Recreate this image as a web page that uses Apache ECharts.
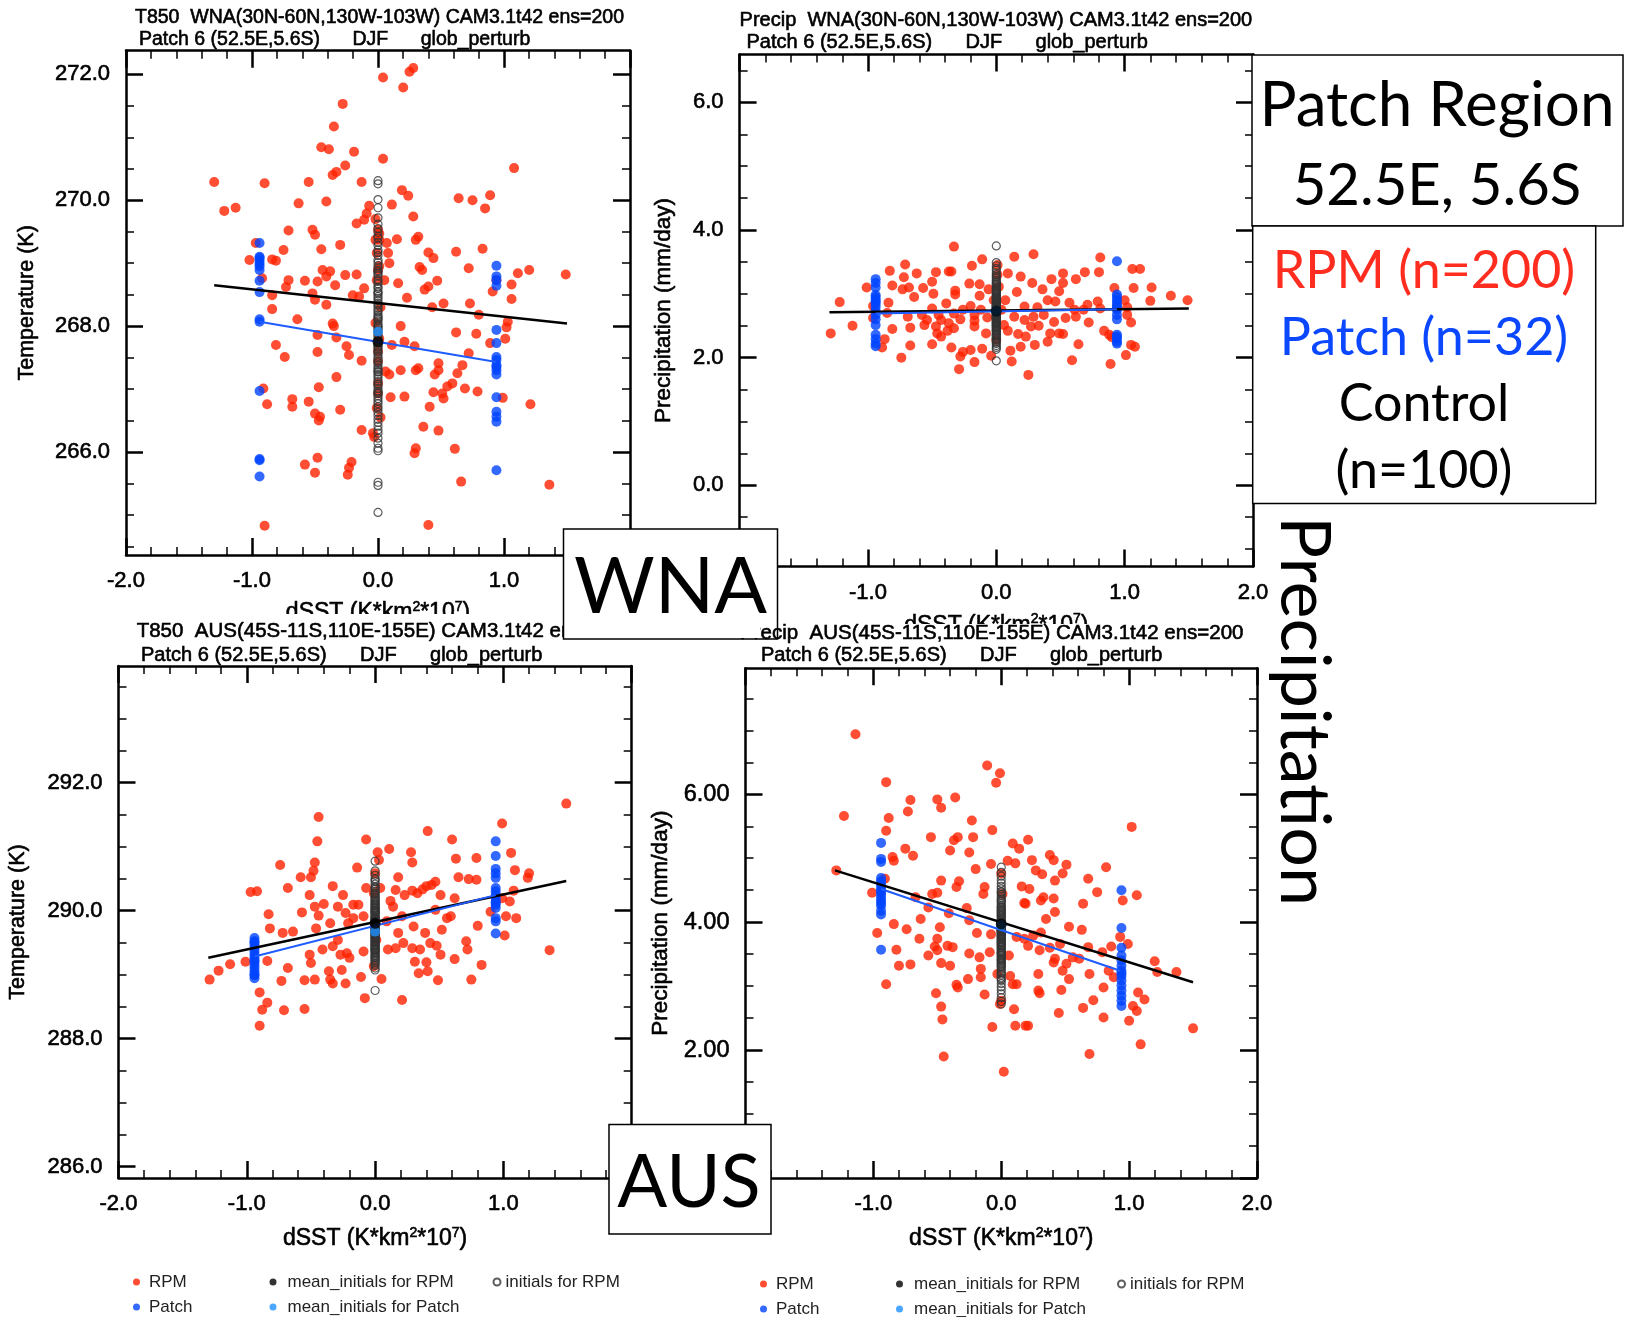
<!DOCTYPE html>
<html><head><meta charset="utf-8">
<script src="https://cdn.jsdelivr.net/npm/echarts@6.0.0/dist/echarts.min.js"></script>
<style>html,body{margin:0;padding:0;background:#fff}#c{width:1633px;height:1317px}</style>
</head><body><div id="c"></div>
<script>
// ---------------- DATA ----------------
const xTicks = [-2, -1, 0, 1, 2];
const xMinorTicks = [-1.8,-1.6,-1.4,-1.2,-0.8,-0.6,-0.4,-0.2,0.2,0.4,0.6,0.8,1.2,1.4,1.6,1.8];
const patchDsst = [-0.94, 0.94];

const tlYTicks = [266, 268, 270, 272];
const tlYMinor = [264.5,265,265.5,266.5,267,267.5,268.5,269,269.5,270.5,271,271.5];
const trYTicks = [0, 2, 4, 6];
const trYMinor = [-1,-0.5,0.5,1,1.5,2.5,3,3.5,4.5,5,5.5,6.5];
const blYTicks = [286, 288, 290, 292];
const blYMinor = [286.5,287,287.5,288.5,289,289.5,290.5,291,291.5,292.5,293,293.5];
const brYTicks = [0, 2, 4, 6];
const brYMinor = [0.5,1,1.5,2.5,3,3.5,4.5,5,5.5,6.5,7,7.5];

// T850 WNA
const tlRpm = [[0.04,271.95],[0.25,272.04],[0.28,272.10],[0.20,271.79],[-0.28,271.53],[-0.35,271.17],[-0.45,270.84],[-0.39,270.81],[-0.19,270.77],[0.04,270.66],[-0.26,270.55],[-0.33,270.45],[-0.36,270.40],[1.08,270.51],[-1.30,270.29],[-0.90,270.27],[-0.55,270.29],[-0.13,270.29],[0.19,270.16],[0.24,270.07],[0.64,270.03],[0.75,270.00],[0.89,270.08],[0.85,269.87],[-0.63,269.95],[-0.41,269.98],[0.11,269.93],[-1.22,269.83],[-1.13,269.88],[-0.07,269.91],[-0.09,269.79],[-0.11,269.69],[0.28,269.74],[-0.17,269.63],[-0.71,269.52],[-0.52,269.53],[-0.50,269.45],[0.32,269.42],[0.30,269.37],[0.15,269.38],[0.07,269.32],[-0.02,269.37],[-0.30,269.29],[-0.75,269.21],[-0.45,269.22],[0.62,269.18],[0.83,269.23],[0.40,269.17],[0.44,269.08],[-0.97,269.32],[-1.02,269.05],[-0.84,269.06],[-0.81,269.04],[0.08,269.16],[0.09,269.00],[0.33,268.94],[0.35,268.89],[0.72,268.92],[1.11,268.84],[1.20,268.89],[1.49,268.82],[-0.44,268.89],[-0.38,268.87],[-0.41,268.79],[-0.26,268.81],[-0.17,268.82],[-0.58,268.72],[-0.71,268.73],[-0.73,268.62],[-0.48,268.71],[-0.34,268.65],[-0.92,268.76],[0.16,268.68],[0.40,268.63],[0.37,268.58],[0.47,268.72],[-0.11,268.60],[-0.20,268.49],[-0.15,268.47],[0.05,268.73],[1.06,268.66],[0.94,268.73],[0.91,268.55],[-0.84,268.49],[-0.52,268.52],[-0.50,268.42],[-0.41,268.34],[0.23,268.45],[0.43,268.30],[0.52,268.36],[0.73,268.36],[1.06,268.43],[0.80,268.18],[-0.84,268.27],[-0.64,268.11],[-0.36,268.04],[-0.35,268.00],[0.18,268.00],[1.03,268.07],[1.02,267.98],[0.62,267.90],[0.78,267.88],[1.01,267.80],[-0.48,267.86],[-0.33,267.82],[-0.81,267.70],[-0.25,267.68],[-0.74,267.51],[-0.48,267.59],[-0.23,267.54],[-0.13,267.45],[0.21,267.75],[0.29,267.68],[0.11,267.70],[0.72,267.57],[0.67,267.38],[0.48,267.41],[0.48,267.30],[0.45,267.23],[0.30,267.30],[0.32,267.33],[0.18,267.30],[0.09,267.23],[0.06,267.28],[0.63,267.25],[-0.33,267.19],[-0.47,267.03],[0.59,267.09],[0.55,267.04],[0.51,266.93],[0.52,266.85],[0.44,266.95],[0.69,267.01],[0.79,266.96],[0.10,266.87],[0.21,266.88],[-0.68,266.84],[-0.68,266.72],[-0.88,266.76],[-0.55,266.80],[-0.30,266.67],[-0.50,266.61],[-0.46,266.56],[-0.47,266.50],[0.99,266.86],[1.21,266.76],[0.41,266.72],[0.36,266.40],[0.48,266.34],[-0.13,266.35],[-0.04,266.30],[-0.03,266.24],[0.30,266.06],[0.29,265.98],[0.61,266.05],[-0.48,265.91],[-0.58,265.80],[-0.50,265.67],[-0.21,265.84],[-0.23,265.75],[-0.24,265.64],[0.66,265.53],[1.36,265.48],[-0.90,264.83],[0.40,264.84],[0.00,269.53],[0.01,269.37],[0.00,268.89],[-0.01,268.73],[0.00,267.44],[0.00,266.93],[0.01,269.47],[-0.01,269.16],[0.00,267.09],[0.89,267.73],[-0.91,267.01],[0.02,268.30],[-0.02,268.05],[0.01,267.80],[0.00,267.60],[-0.01,266.70],[0.02,266.55],[0.01,268.95],[-0.02,269.70]];
const tlPatchNeg = [269.32,269.08,269.04,268.99,268.89,268.72,268.54,268.11,268.07,266.97,265.89,265.87,265.61,268.95,269.10];
const tlPatchPos = [268.96,268.79,268.73,268.64,267.94,267.73,267.51,267.46,267.38,267.30,267.23,266.87,266.64,266.56,266.48,265.71,267.35];
const tlControl = [270.31,270.26,270.01,269.88,269.72,269.62,269.55,269.49,269.43,269.40,269.33,269.28,269.21,269.17,269.12,269.05,269.01,268.96,268.92,268.88,268.83,268.80,268.74,268.71,268.67,268.62,268.60,268.55,268.51,268.47,268.44,268.40,268.36,268.33,268.29,268.25,268.22,268.18,268.15,268.11,268.08,268.04,268.01,267.97,267.94,267.91,267.87,267.84,267.80,267.77,267.73,267.70,267.66,267.63,267.59,267.56,267.52,267.49,267.45,267.42,267.38,267.34,267.31,267.27,267.23,267.20,267.16,267.12,267.08,267.05,267.01,266.97,266.93,266.89,266.85,266.81,266.77,266.72,266.68,266.63,266.58,266.52,266.47,266.41,266.35,266.30,266.22,266.14,266.06,266.02,265.52,265.47,265.04,268.53,268.13,267.68,267.28,266.95,268.86,267.99];
const tlFitRpm = [[-1.30,268.65],[1.50,268.04]];
const tlFitPatch = [[-0.94,268.07],[0.94,267.43]];

// Precip WNA
const trRpm = [[-0.33,3.74],[-0.11,3.54],[0.14,3.58],[0.29,3.62],[0.81,3.57],[1.06,3.39],[1.12,3.39],[-0.71,3.46],[-0.83,3.36],[-0.72,3.26],[-0.62,3.32],[-0.47,3.34],[-0.37,3.35],[-0.35,3.35],[-0.19,3.44],[0.09,3.32],[0.19,3.27],[0.28,3.17],[0.43,3.23],[0.52,3.32],[0.62,3.23],[0.69,3.34],[0.80,3.34],[-1.01,3.10],[-0.81,3.13],[-0.73,3.07],[-0.68,3.10],[-0.57,3.09],[-0.50,3.19],[-0.49,3.00],[-0.64,2.95],[-0.32,3.05],[-0.32,2.99],[-0.21,3.16],[-0.13,3.15],[-0.13,2.97],[-0.06,3.07],[0.16,3.03],[0.36,3.07],[0.49,3.04],[0.52,3.17],[0.92,3.09],[1.07,3.09],[1.21,3.10],[1.36,2.97],[1.49,2.90],[1.20,2.89],[1.02,2.79],[-1.22,2.87],[-0.84,2.86],[-0.39,2.85],[-0.20,2.81],[0.07,2.90],[0.22,2.80],[0.32,2.79],[0.40,2.90],[0.46,2.88],[0.57,2.86],[0.71,2.83],[0.79,2.88],[0.61,2.75],[0.68,2.75],[0.81,2.77],[-0.50,2.77],[-0.45,2.67],[-0.33,2.69],[-0.26,2.75],[-0.17,2.67],[-0.12,2.75],[-0.58,2.67],[-0.54,2.59],[-0.43,2.59],[-0.37,2.54],[-0.28,2.60],[-0.17,2.58],[-0.07,2.63],[0.06,2.51],[0.14,2.64],[0.22,2.59],[0.29,2.64],[0.37,2.67],[0.45,2.56],[0.54,2.62],[0.62,2.64],[0.72,2.55],[1.02,2.67],[1.05,2.55],[-0.85,2.70],[-0.69,2.64],[-0.96,2.62],[-1.12,2.50],[-1.29,2.38],[-0.81,2.45],[-0.67,2.47],[-0.56,2.51],[-0.47,2.49],[-0.38,2.42],[-0.33,2.46],[-0.17,2.49],[-0.08,2.38],[0.09,2.42],[0.17,2.37],[0.23,2.33],[0.27,2.49],[0.33,2.50],[0.42,2.38],[0.49,2.38],[0.52,2.37],[0.84,2.42],[0.88,2.36],[1.05,2.20],[0.90,2.32],[-0.46,2.38],[-0.43,2.33],[-0.89,2.16],[-0.67,2.19],[-0.50,2.21],[-0.35,2.16],[-0.26,2.09],[-0.20,2.12],[-0.11,2.14],[-0.04,2.03],[0.11,2.11],[0.12,1.94],[-0.28,2.02],[-0.74,2.00],[-0.17,1.93],[-0.29,1.82],[0.25,1.73],[0.19,2.17],[0.30,2.20],[0.40,2.25],[0.64,2.21],[0.89,1.90],[1.01,2.04],[1.08,2.17],[0.59,1.96],[-0.87,2.29],[-0.96,2.81],[1.00,2.90],[0.01,3.30],[0.02,3.11],[-0.02,2.90],[0.04,2.75],[0.00,2.28],[0.01,3.45]];
const trPatchNeg = [3.23,3.17,3.10,2.98,2.95,2.91,2.85,2.80,2.74,2.67,2.60,2.51,2.36,2.29,2.22,2.18,2.88];
const trPatchPos = [3.51,2.99,2.95,2.90,2.85,2.80,2.75,2.67,2.60,2.36,2.30,2.25,2.22,2.78,2.33];
const trControl = [3.75,3.49,3.44,3.40,3.37,3.33,3.30,3.27,3.25,3.22,3.20,3.18,3.15,3.13,3.11,3.09,3.07,3.05,3.03,3.02,3.00,2.98,2.96,2.95,2.93,2.91,2.90,2.88,2.87,2.85,2.84,2.82,2.81,2.79,2.78,2.77,2.75,2.74,2.73,2.71,2.70,2.69,2.67,2.66,2.65,2.63,2.62,2.61,2.59,2.58,2.57,2.55,2.54,2.52,2.51,2.50,2.48,2.47,2.45,2.44,2.42,2.41,2.39,2.37,2.36,2.34,2.32,2.30,2.28,2.26,2.24,2.22,2.19,2.16,2.13,1.95,2.80,2.72,2.64,2.56,2.86,2.76,2.68,2.60,2.92,2.83,2.71,2.53,2.99,2.89,2.78,2.66,2.49,3.06,2.94,2.81,2.62,2.43,3.16,2.35];
const trFitRpm = [[-1.30,2.71],[1.50,2.77]];
const trFitPatch = [[-0.94,2.69],[0.94,2.76]];

// T850 AUS
const blRpm = [[1.49,291.67],[-0.44,291.46],[0.99,291.36],[0.41,291.24],[-0.45,291.08],[-0.07,291.11],[0.60,291.11],[0.02,290.91],[0.11,290.96],[0.28,290.91],[0.29,290.75],[0.63,290.81],[0.79,290.82],[1.06,290.90],[-0.74,290.71],[-0.47,290.75],[-0.48,290.62],[-0.14,290.67],[-0.58,290.52],[-0.50,290.52],[0.18,290.52],[1.09,290.63],[1.20,290.58],[1.19,290.51],[0.65,290.52],[0.73,290.49],[0.79,290.48],[0.47,290.45],[0.44,290.40],[0.40,290.38],[-0.92,290.30],[-0.97,290.29],[-0.68,290.35],[-0.33,290.38],[-0.25,290.24],[-0.17,290.09],[-0.13,290.09],[-0.07,290.35],[0.04,290.35],[0.12,290.15],[0.16,290.32],[0.23,290.24],[0.29,290.31],[0.33,290.27],[0.37,290.33],[0.51,290.24],[0.62,290.19],[1.08,290.31],[1.05,290.14],[0.99,290.19],[1.02,289.91],[1.10,289.88],[-0.83,289.94],[-0.57,289.97],[-0.51,290.24],[-0.47,290.06],[-0.40,290.10],[-0.29,290.06],[-0.23,289.96],[-0.17,289.88],[-0.09,289.91],[0.14,290.06],[0.21,289.91],[0.47,290.01],[0.56,289.88],[0.59,289.91],[0.80,289.76],[-0.82,289.72],[-0.72,289.65],[-0.64,289.67],[-0.46,289.72],[-0.44,289.92],[-0.35,289.80],[-0.29,289.54],[-0.21,289.80],[0.09,289.83],[0.18,289.65],[0.30,289.75],[0.39,289.65],[0.52,289.70],[0.71,289.52],[0.72,289.39],[0.90,289.98],[1.01,289.61],[1.36,289.38],[-1.01,289.20],[-0.84,289.21],[-0.51,289.31],[-0.50,289.18],[-0.41,289.39],[-0.33,289.44],[-0.27,289.31],[-0.22,289.33],[-0.20,289.26],[-0.09,289.36],[0.10,289.39],[0.16,289.41],[0.22,289.49],[0.29,289.41],[0.35,289.39],[0.43,289.49],[0.48,289.45],[0.51,289.31],[0.31,289.20],[0.40,289.19],[0.62,289.24],[0.83,289.15],[-1.13,289.16],[-1.22,289.06],[-1.29,288.92],[-0.68,289.10],[-0.73,288.90],[-0.55,288.91],[-0.47,288.92],[-0.36,289.05],[-0.35,288.92],[-0.33,288.86],[-0.26,289.07],[-0.23,288.86],[-0.11,288.96],[0.05,288.93],[0.34,289.02],[0.41,289.05],[0.49,288.91],[0.75,288.92],[-0.90,288.72],[-0.84,288.56],[-0.88,288.45],[-0.71,288.44],[-0.55,288.46],[-0.90,288.20],[-0.08,288.63],[0.21,288.60],[0.00,290.58],[-0.01,290.27],[0.01,289.54],[-0.01,289.13],[0.03,290.79]];
const blPatchNeg = [289.57,289.52,289.46,289.41,289.36,289.31,289.26,289.20,289.15,289.10,289.05,288.99,288.94,289.50,289.22,289.00];
const blPatchPos = [291.08,290.85,290.65,290.58,290.51,290.30,290.24,290.19,290.14,290.09,290.04,289.88,289.83,289.64,290.35,290.12];
const blControl = [290.77,290.62,290.55,290.50,290.45,290.41,290.37,290.33,290.30,290.27,290.24,290.21,290.18,290.15,290.13,290.10,290.08,290.05,290.03,290.01,289.99,289.97,289.95,289.93,289.91,289.89,289.87,289.85,289.83,289.81,289.79,289.77,289.75,289.73,289.71,289.69,289.67,289.65,289.63,289.61,289.59,289.57,289.55,289.53,289.51,289.49,289.47,289.45,289.43,289.41,289.39,289.37,289.34,289.32,289.30,289.27,289.24,289.21,289.18,289.14,289.10,289.07,288.75,290.48,290.20,289.96,289.78,289.58,289.38,290.35,290.11,289.90,289.70,289.50,289.29,290.26,290.04,289.84,289.64,289.44,289.22,290.16,289.98,289.80,289.62,289.46,289.26,290.07,289.88,289.72,289.56,289.40,289.16,290.00,289.82,289.66,289.52,289.35,289.86,289.68];
const blFitRpm = [[-1.30,289.26],[1.49,290.46]];
const blFitPatch = [[-0.94,289.28],[0.94,290.24]];

// Precip AUS
const brRpm = [[-1.14,6.94],[-1.23,5.66],[-0.90,6.19],[-0.88,5.63],[-0.90,5.43],[-0.71,5.91],[-0.73,5.73],[-0.50,5.92],[-0.47,5.79],[-0.36,5.95],[-0.11,6.45],[-0.01,6.33],[-0.04,6.18],[-0.55,5.33],[-0.34,5.33],[-0.37,5.28],[-0.23,5.59],[-0.22,5.33],[-0.07,5.44],[-0.75,5.15],[-0.69,5.04],[-0.85,5.02],[-0.84,4.96],[-0.40,5.12],[-0.25,5.09],[0.09,5.23],[0.14,5.15],[0.21,5.29],[0.38,5.05],[0.41,4.97],[0.51,4.90],[0.24,4.97],[0.27,4.81],[0.32,4.75],[0.42,4.65],[0.48,4.76],[-0.08,4.91],[0.05,4.96],[0.11,4.92],[0.82,4.86],[1.02,5.49],[0.68,4.68],[0.75,4.47],[1.06,4.42],[0.64,4.29],[0.41,4.37],[0.31,4.34],[0.19,4.29],[0.16,4.56],[-0.20,4.83],[-0.33,4.64],[-0.35,4.55],[-0.47,4.65],[-0.54,4.44],[-0.50,4.46],[-0.13,4.55],[-0.14,4.44],[-1.29,4.81],[-1.01,4.46],[-0.91,4.68],[-0.67,4.39],[-0.57,4.23],[-0.41,4.14],[-0.27,4.22],[-0.25,4.03],[-0.19,3.83],[-0.08,3.81],[0.12,3.77],[0.21,3.63],[0.30,3.56],[0.38,3.60],[0.46,3.66],[0.53,3.93],[0.63,3.88],[0.79,3.53],[0.86,3.62],[0.93,3.77],[0.68,3.61],[0.56,3.45],[0.51,3.35],[0.42,3.43],[0.41,3.37],[0.61,3.43],[-0.97,3.83],[-0.84,3.97],[-0.74,3.89],[-0.63,4.05],[-0.64,3.74],[-0.50,3.74],[-0.52,3.62],[-0.42,3.63],[-0.38,3.61],[-0.48,3.92],[-0.50,3.56],[-0.57,3.48],[-0.25,3.51],[-0.17,3.45],[-0.09,3.53],[0.06,3.48],[0.18,3.74],[0.25,3.79],[0.31,3.84],[0.35,4.05],[0.42,4.16],[0.33,4.39],[0.22,4.52],[0.18,4.30],[-0.82,3.57],[-0.71,3.34],[-0.80,3.32],[-0.47,3.36],[-0.40,3.32],[-0.16,3.27],[-0.16,3.14],[-0.13,2.87],[-0.03,3.19],[0.07,3.16],[0.09,3.03],[0.12,3.03],[0.29,3.19],[0.48,3.24],[0.53,3.11],[0.69,3.19],[0.80,2.98],[0.88,3.14],[0.84,3.24],[0.72,2.78],[0.64,2.66],[0.29,2.93],[0.30,2.89],[0.47,2.94],[0.99,3.66],[1.20,3.39],[1.22,3.22],[1.37,3.22],[1.07,2.90],[1.12,2.79],[1.03,2.69],[1.06,2.61],[1.00,2.46],[1.50,2.34],[1.09,2.09],[-0.90,3.03],[-0.51,2.89],[-0.47,2.68],[-0.46,2.48],[-0.35,3.02],[-0.34,2.98],[-0.26,3.11],[-0.07,2.36],[0.10,2.64],[0.11,2.38],[0.19,2.38],[0.21,2.38],[0.45,2.58],[0.80,2.51],[-0.45,1.90],[0.69,1.94],[0.02,1.66],[0.00,4.76],[0.01,4.44],[0.00,3.87],[0.00,2.77],[-0.01,2.72],[0.95,4.34]];
const brPatchNeg = [5.24,4.99,4.94,4.69,4.64,4.60,4.55,4.50,4.44,4.39,4.34,4.26,4.18,4.12,3.57,4.48,4.30];
const brPatchPos = [4.50,3.91,3.60,3.48,3.40,3.32,3.24,3.16,3.09,3.01,2.93,2.85,2.77,2.69,3.20];
const brControl = [4.86,4.78,4.72,4.66,4.61,4.56,4.52,4.48,4.44,4.41,4.38,4.35,4.32,4.29,4.26,4.23,4.21,4.18,4.15,4.13,4.10,4.08,4.06,4.03,4.01,3.99,3.97,3.95,3.93,3.90,3.88,3.86,3.84,3.82,3.80,3.78,3.76,3.74,3.72,3.70,3.67,3.65,3.63,3.61,3.58,3.56,3.54,3.51,3.49,3.46,3.44,3.41,3.38,3.36,3.33,3.30,3.27,3.24,3.21,3.17,3.13,3.09,3.04,2.99,2.94,2.88,2.82,2.76,2.72,4.47,4.19,3.98,3.79,3.60,3.40,4.33,4.11,3.92,3.73,3.53,3.31,4.24,4.04,3.87,3.69,3.48,3.19,4.16,3.96,3.81,3.64,3.43,3.11,4.00,3.85,3.68,3.52,3.35,3.91,3.77];
const brFitRpm = [[-1.30,4.81],[1.50,3.06]];
const brFitPatch = [[-0.94,4.52],[0.93,3.24]];

const meanRpm = [267.75, 2.73, 289.80, 3.97];
const meanPatch = [267.91, 2.73, 289.67, 3.95];

const panelTitles = [
  ['T850  WNA(30N-60N,130W-103W) CAM3.1t42 ens=200', 'Patch 6 (52.5E,5.6S)      DJF      glob_perturb'],
  ['Precip  WNA(30N-60N,130W-103W) CAM3.1t42 ens=200', 'Patch 6 (52.5E,5.6S)      DJF      glob_perturb'],
  ['T850  AUS(45S-11S,110E-155E) CAM3.1t42 ens=200', 'Patch 6 (52.5E,5.6S)      DJF      glob_perturb'],
  ['Precip  AUS(45S-11S,110E-155E) CAM3.1t42 ens=200', 'Patch 6 (52.5E,5.6S)      DJF      glob_perturb']
];
const legendCol1 = ['RPM', 'Patch'];
const legendCol2 = ['mean_initials for RPM', 'mean_initials for Patch'];
const legendCol3 = ['initials for RPM'];
const infoLines = ['Patch Region', '52.5E, 5.6S', 'RPM (n=200)', 'Patch (n=32)', 'Control', '(n=100)'];

// ---------------- CHART ----------------
const FONT = '"Liberation Sans", Arial, Helvetica, sans-serif';
const GILL = 'Lato, "Open Sans", sans-serif';
const RED = '#ff2200', BLUE = '#0044ff', LBLUE = '#1e90ff', FITBLUE = '#1f5cff';
const HEAVY = {textBorderColor: '#000', textBorderWidth: 0.6};
const grids = [], xAxes = [], yAxes = [], series = [];

function addPanel(p) {
  const gi = grids.length;
  grids.push({left: p.left, top: p.top, width: p.width, height: p.height, containLabel: false, outerBoundsMode: 'none'});
  const xi = xAxes.length, yi = yAxes.length;
  const line = {show: true, onZero: false, lineStyle: {color: '#000', width: 2.5}};
  const noLine = {show: false, onZero: false};
  const major = v => ({show: true, inside: true, length: 17, lineStyle: {color: '#000', width: 2.5}, customValues: v});
  const minor = v => ({show: true, inside: true, length: 8, lineStyle: {color: '#000', width: 1.5}, customValues: v});
  const xc = {type: 'value', gridIndex: gi, min: -2, max: 2, splitLine: {show: false}};
  const yc = {type: 'value', gridIndex: gi, min: p.ymin, max: p.ymax, splitLine: {show: false}};
  xAxes.push(Object.assign({}, xc, {position: 'bottom', axisLine: line, axisTick: major(xTicks),
    axisLabel: Object.assign({show: true, margin: 15, fontSize: 22, color: '#000', fontFamily: FONT, customValues: xTicks, formatter: v => Number(v).toFixed(1)}, HEAVY),
    name: '{a|dSST (K*km}{s|2}{a|*10}{s|7}{a|)}', nameLocation: 'middle', nameGap: p.xNameGap,
    nameTextStyle: {color: '#000', fontFamily: FONT, rich: {
      a: Object.assign({fontSize: 23, fontFamily: FONT, color: '#000', lineHeight: 26}, HEAVY),
      s: Object.assign({fontSize: 14, fontFamily: FONT, color: '#000', verticalAlign: 'top', lineHeight: 26}, HEAVY)}}}));
  xAxes.push(Object.assign({}, xc, {position: 'top', axisLine: line, axisTick: major(xTicks), axisLabel: {show: false}}));
  xAxes.push(Object.assign({}, xc, {position: 'bottom', axisLine: noLine, axisTick: minor(xMinorTicks), axisLabel: {show: false}}));
  xAxes.push(Object.assign({}, xc, {position: 'top', axisLine: noLine, axisTick: minor(xMinorTicks), axisLabel: {show: false}}));
  yAxes.push(Object.assign({}, yc, {position: 'left', axisLine: line, axisTick: major(p.yTicks),
    axisLabel: Object.assign({show: true, margin: 16, fontSize: p.ylabelSize, color: '#000', fontFamily: FONT, customValues: p.yTicks, formatter: v => Number(v).toFixed(p.yDec)}, HEAVY),
    name: p.yName, nameLocation: 'middle', nameRotate: 90, nameGap: p.yNameGap,
    nameTextStyle: Object.assign({color: '#000', fontFamily: FONT, fontSize: p.yNameSize}, HEAVY)}));
  yAxes.push(Object.assign({}, yc, {position: 'right', axisLine: line, axisTick: major(p.yTicks), axisLabel: {show: false}}));
  yAxes.push(Object.assign({}, yc, {position: 'left', axisLine: noLine, axisTick: minor(p.yMinor), axisLabel: {show: false}}));
  yAxes.push(Object.assign({}, yc, {position: 'right', axisLine: noLine, axisTick: minor(p.yMinor), axisLabel: {show: false}}));

  const base = {xAxisIndex: xi, yAxisIndex: yi, silent: true};
  const patchPairs = p.patchNeg.map(v => [patchDsst[0], v]).concat(p.patchPos.map(v => [patchDsst[1], v]));
  series.push(Object.assign({}, base, {name: 'RPM', type: 'scatter', data: p.rpm, symbol: 'circle', symbolSize: 10, itemStyle: {color: RED}, z: 2}));
  series.push(Object.assign({}, base, {name: 'Patch', type: 'scatter', data: patchPairs, symbol: 'circle', symbolSize: 10, itemStyle: {color: BLUE}, z: 3}));
  series.push(Object.assign({}, base, {name: 'initials for RPM', type: 'scatter', data: p.control.map(v => [0, v]), symbol: 'circle', symbolSize: 8,
    itemStyle: {color: 'rgba(255,255,255,0)', borderColor: '#333', borderWidth: 1.2}, z: 4}));
  series.push(Object.assign({}, base, {name: 'RPM fit', type: 'line', data: p.fitRpm, symbol: 'none', lineStyle: {color: '#000', width: 2.5}, z: 5}));
  series.push(Object.assign({}, base, {name: 'Patch fit', type: 'line', data: p.fitPatch, symbol: 'none', lineStyle: {color: FITBLUE, width: 2}, z: 5}));
  series.push(Object.assign({}, base, {name: 'mean_initials for Patch', type: 'scatter', data: [[0, p.meanPatch]], symbol: 'circle', symbolSize: 10, itemStyle: {color: LBLUE}, z: 6}));
  series.push(Object.assign({}, base, {name: 'mean_initials for RPM', type: 'scatter', data: [[0, p.meanRpm]], symbol: 'circle', symbolSize: 11, itemStyle: {color: '#000'}, z: 7}));
}

addPanel({left: 126, top: 50.7, width: 504, height: 504.3, ymin: 264.364, ymax: 272.375, yTicks: tlYTicks, yMinor: tlYMinor, yDec: 1, ylabelSize: 22,
  yName: 'Temperature (K)', yNameGap: 88, yNameSize: 21.5, xNameGap: 45,
  rpm: tlRpm, patchNeg: tlPatchNeg, patchPos: tlPatchPos, control: tlControl, fitRpm: tlFitRpm, fitPatch: tlFitPatch, meanRpm: meanRpm[0], meanPatch: meanPatch[0]});
addPanel({left: 739.6, top: 54.6, width: 513.4, height: 511.9, ymin: -1.272, ymax: 6.748, yTicks: trYTicks, yMinor: trYMinor, yDec: 1, ylabelSize: 22,
  yName: 'Precipitation (mm/day)', yNameGap: 64, yNameSize: 22.5, xNameGap: 46,
  rpm: trRpm, patchNeg: trPatchNeg, patchPos: trPatchPos, control: trControl, fitRpm: trFitRpm, fitPatch: trFitPatch, meanRpm: meanRpm[1], meanPatch: meanPatch[1]});
addPanel({left: 118.5, top: 666, width: 513.2, height: 512, ymin: 285.82, ymax: 293.82, yTicks: blYTicks, yMinor: blYMinor, yDec: 1, ylabelSize: 22,
  yName: 'Temperature (K)', yNameGap: 89, yNameSize: 21.5, xNameGap: 48,
  rpm: blRpm, patchNeg: blPatchNeg, patchPos: blPatchPos, control: blControl, fitRpm: blFitRpm, fitPatch: blFitPatch, meanRpm: meanRpm[2], meanPatch: meanPatch[2]});
addPanel({left: 745.5, top: 668.3, width: 511.5, height: 509.7, ymin: 0, ymax: 7.97, yTicks: brYTicks, yMinor: brYMinor, yDec: 2, ylabelSize: 23.5,
  yName: 'Precipitation (mm/day)', yNameGap: 73, yNameSize: 22.5, xNameGap: 48,
  rpm: brRpm, patchNeg: brPatchNeg, patchPos: brPatchPos, control: brControl, fitRpm: brFitRpm, fitPatch: brFitPatch, meanRpm: meanRpm[3], meanPatch: meanPatch[3]});

function txt(x, y, text, o) {
  o = o || {};
  const st = {text: text, fontSize: o.size || 19.5, fontFamily: o.family || FONT, fill: o.color || '#000',
    align: o.align || 'left', verticalAlign: 'middle'};
  if (!o.thin) { st.stroke = o.color || '#000'; st.lineWidth = 0.6; }
  return {type: 'text', x: x, y: y, z: o.z || 10, rotation: o.rot || 0, silent: true, style: st};
}
function box(x, y, w, h, z) {
  return {type: 'rect', z: z, silent: true, shape: {x: x, y: y, width: w, height: h}, style: {fill: '#fff', stroke: '#000', lineWidth: 1.5}};
}
function cover(x, y, w, h, z) {
  return {type: 'rect', z: z || 9, silent: true, shape: {x: x, y: y, width: w, height: h}, style: {fill: '#fff'}};
}

const elements = [
  cover(250, 614, 260, 18),
  cover(860, 624, 290, 16),
  txt(135, 18, panelTitles[0][0]), txt(139, 39.5, panelTitles[0][1]),
  txt(739.6, 20.4, panelTitles[1][0], {size: 20}), txt(746.5, 42, panelTitles[1][1], {size: 20}),
  txt(136.7, 631.7, panelTitles[2][0], {size: 20.5}), txt(141, 655, panelTitles[2][1], {size: 20}),
  box(563.5, 529, 214, 110, 20), txt(670.5, 588, 'WNA', {size: 78, family: GILL, align: 'center', z: 21, thin: true}),
  txt(740, 633, panelTitles[3][0], {size: 20.5, z: 22}),
  cover(736, 623, 24.5, 15, 23),
  txt(761, 655.5, panelTitles[3][1], {size: 20}),
  box(609, 1124.5, 162, 109.5, 20), txt(689, 1183, 'AUS', {size: 74, family: GILL, align: 'center', z: 21, thin: true}),
  box(1252, 55, 371, 171, 20),
  txt(1437, 106, infoLines[0], {size: 62, family: GILL, align: 'center', z: 21, thin: true}),
  txt(1437, 186, infoLines[1], {size: 58, family: GILL, align: 'center', z: 21, thin: true}),
  box(1252.7, 226, 343, 277.5, 20),
  txt(1424, 271, infoLines[2], {size: 52, family: GILL, align: 'center', color: '#ff2d1f', z: 21, thin: true}),
  txt(1424, 338, infoLines[3], {size: 52, family: GILL, align: 'center', color: '#0a47ff', z: 21, thin: true}),
  txt(1424, 404.5, infoLines[4], {size: 52, family: GILL, align: 'center', z: 21, thin: true}),
  txt(1424, 471, infoLines[5], {size: 52, family: GILL, align: 'center', z: 21, thin: true}),
  txt(1304, 711, 'Precipitation', {size: 70, family: GILL, align: 'center', rot: -Math.PI / 2, z: 21, thin: true})
];

const legTxt = {fontSize: 17, color: '#222', fontFamily: FONT, lineHeight: 17};
function leg(left, top, data, pad) {
  return {left: left, top: top, width: 260, height: 120, orient: 'vertical', padding: 0, itemGap: 8, itemWidth: 7, itemHeight: 7, icon: 'circle',
    selectedMode: false, data: data, textStyle: Object.assign({}, legTxt, {padding: [0, 0, 0, pad]})};
}

const chart = echarts.init(document.getElementById('c'), null, {renderer: 'canvas'});
chart.setOption({
  animation: false,
  backgroundColor: '#fff',
  textStyle: {fontFamily: FONT},
  grid: grids, xAxis: xAxes, yAxis: yAxes, series: series,
  legend: [
    leg(133, 1273.5, legendCol1, 4), leg(269.5, 1273.5, legendCol2, 6), leg(492.5, 1273.5, legendCol3, 0),
    leg(760, 1275.5, legendCol1, 4), leg(896, 1275.5, legendCol2, 6), leg(1117, 1275.5, legendCol3, 0)
  ],
  graphic: {elements: elements}
});
</script>
</body></html>
